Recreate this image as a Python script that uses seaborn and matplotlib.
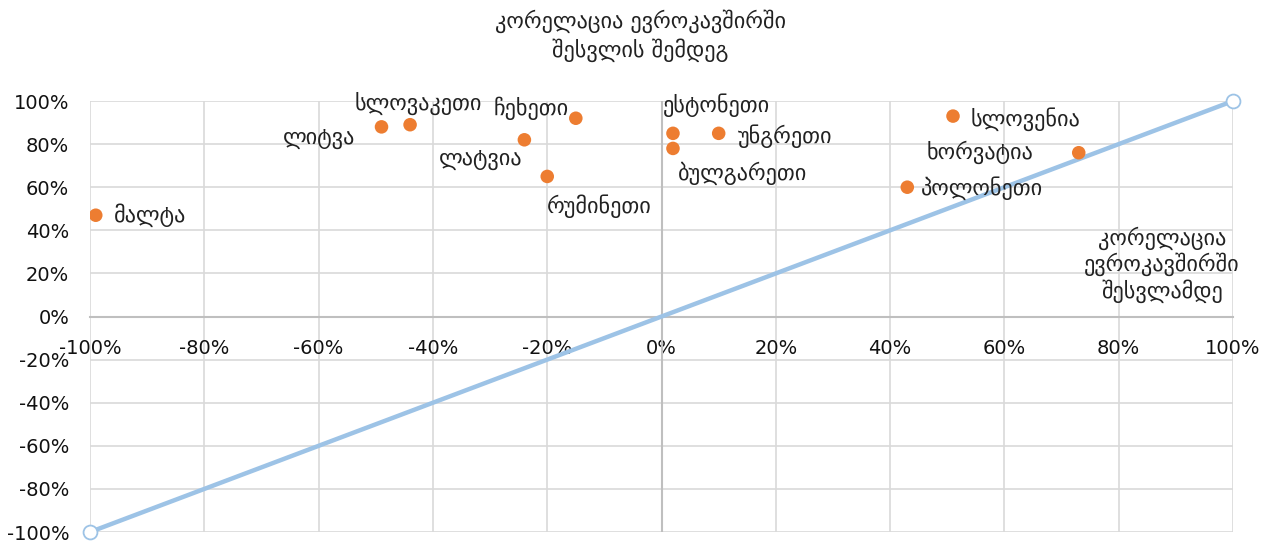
import matplotlib
matplotlib.use("Agg")
import matplotlib.pyplot as plt
import seaborn as sns
import pandas as pd
from matplotlib.ticker import PercentFormatter

# Data
countries = ['მალტა', 'ლიტვა', 'სლოვაკეთი', 'ჩეხეთი', 'ლატვია', 'რუმინეთი',
             'ესტონეთი', 'უნგრეთი', 'ბულგარეთი', 'სლოვენია', 'ხორვატია', 'პოლონეთი']
before = [-0.99, -0.49, -0.44, -0.15, -0.24, -0.20, 0.02, 0.10, 0.02, 0.51, 0.73, 0.43]
after = [0.47, 0.88, 0.89, 0.92, 0.82, 0.65, 0.85, 0.85, 0.78, 0.93, 0.76, 0.60]
diag_x = [-1.0, 1.0]
diag_y = [-1.0, 1.0]

# label offsets in pixels (dx, dy) and alignment
label_pos = {
    'მალტა': (18, 0, 'left'),
    'ლიტვა': (-26, -12, 'right'),
    'სლოვაკეთი': (8, 21, 'center'),
    'ჩეხეთი': (-7, 10, 'right'),
    'ლატვია': (-2, -20, 'right'),
    'რუმინეთი': (52, -30, 'center'),
    'ესტონეთი': (43, 28, 'center'),
    'უნგრეთი': (19, -3, 'left'),
    'ბულგარეთი': (70, -25, 'center'),
    'სლოვენია': (18, -3, 'left'),
    'ხორვატია': (-45, 0, 'right'),
    'პოლონეთი': (14, -1, 'left'),
}

df = pd.DataFrame({'country': countries, 'before': before, 'after': after})

sns.set_style('white')
plt.rcParams['font.family'] = ['DejaVu Sans']
plt.rcParams['axes.unicode_minus'] = False

fig = plt.figure(figsize=(12.7, 5.41), dpi=100)
ax = fig.add_axes([0.0709, 0.0166, 0.9, 0.7967])

ax.axvline(0, color='#BFBFBF', lw=1.5, zorder=1)
sns.lineplot(x=diag_x, y=diag_y, ax=ax, color='#9DC3E6', lw=3.2,
             marker='o', markersize=10, markerfacecolor='white',
             markeredgecolor='#9DC3E6', markeredgewidth=1.3, clip_on=False, zorder=3)
sns.scatterplot(data=df, x='before', y='after', ax=ax, color='#ED7D31',
                s=95, edgecolor='none', zorder=4)

for c, xv, yv in zip(countries, before, after):
    dx, dy, ha = label_pos[c]
    ax.annotate(c, (xv, yv), xytext=(dx * 0.72, dy * 0.72), textcoords='offset points',
                ha=ha, va='center', fontsize=16, color='#222222')

ax.set_xlim(-1, 1)
ax.set_ylim(-1, 1)
ax.set_xticks([i / 10 for i in range(-10, 11, 2)])
ax.set_yticks([i / 10 for i in range(-10, 11, 2)])
ax.xaxis.set_major_formatter(PercentFormatter(1.0, decimals=0))
ax.yaxis.set_major_formatter(PercentFormatter(1.0, decimals=0))
ax.grid(True, color='#D9D9D9', lw=1.2)
for s in ['top', 'right', 'left']:
    ax.spines[s].set_visible(False)
ax.spines['bottom'].set_position(('data', 0))
ax.spines['bottom'].set_color('#BFBFBF')
ax.spines['bottom'].set_linewidth(1.5)
ax.tick_params(axis='x', length=0, pad=16, labelsize=14, colors='#111111')
ax.tick_params(axis='y', length=0, pad=15, labelsize=14, colors='#111111')
ax.set_xlabel('')
ax.set_ylabel('')

ax.text(0.938, 0.62, 'კორელაცია\nევროკავშირში\nშესვლამდე', transform=ax.transAxes,
        ha='center', va='center', fontsize=16, linespacing=1.15, color='#222222')
fig.text(0.504, 0.934, 'კორელაცია ევროკავშირში\nშესვლის შემდეგ', ha='center', va='center',
         fontsize=16, linespacing=1.3, color='#222222')

fig.savefig('out.png', dpi=100)
